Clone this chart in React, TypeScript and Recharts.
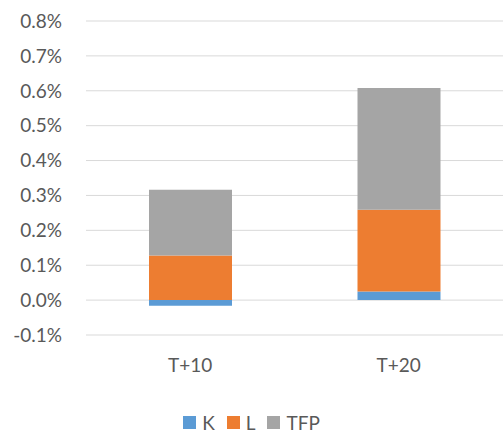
import React from 'react';
import { BarChart, Bar, XAxis, YAxis, CartesianGrid, Legend } from 'recharts';

// --- Data ---
const periods = ['T+10', 'T+20'];
const kValues = [-0.016, 0.025];
const lValues = [0.128, 0.234];
const tfpValues = [0.188, 0.349];
const yTicks = [-0.1, 0, 0.1, 0.2, 0.3, 0.4, 0.5, 0.6, 0.7, 0.8];

const seriesInfo = [
  { key: 'K', color: '#5B9BD5' },
  { key: 'L', color: '#ED7D31' },
  { key: 'TFP', color: '#A5A5A5' },
];

const data = periods.map((p, i) => ({
  period: p,
  K: kValues[i],
  L: lValues[i],
  TFP: tfpValues[i],
}));

const FONT = 'Lato, "Open Sans", sans-serif';
const TEXT = '#595959';

// --- Legend ---
const ChartLegend = () => (
  <div style={{ height: 30, boxSizing: 'border-box', display: 'flex', justifyContent: 'center', alignItems: 'center', gap: 12, fontFamily: FONT, fontSize: 19, color: TEXT, paddingTop: 10 }}>
    {seriesInfo.map((s) => (
      <div key={s.key} style={{ display: 'flex', alignItems: 'center', gap: 6 }}>
        <div style={{ width: 13, height: 13, background: s.color }} />
        <span>{s.key}</span>
      </div>
    ))}
  </div>
);

export default function App() {
  return (
    <div style={{ position: 'absolute', left: 0, top: 0, width: 503, height: 432, background: '#fff' }}>
      <BarChart
        width={503}
        height={432}
        data={data}
        stackOffset="sign"
        barSize={83}
        margin={{ top: 21, right: 0, left: 0, bottom: 0 }}
      >
        <CartesianGrid stroke="#D9D9D9" strokeWidth={1} vertical={false} />
        <XAxis
          dataKey="period"
          axisLine={false}
          tickLine={false}
          tickSize={0}
          tickMargin={24}
          height={67}
          tick={{ fill: TEXT, fontSize: 19, fontFamily: FONT }}
        />
        <YAxis
          domain={[-0.1, 0.8]}
          ticks={yTicks}
          interval={0}
          axisLine={false}
          tickLine={false}
          tickSize={0}
          tickMargin={24}
          width={86}
          tickFormatter={(v: number) => `${v.toFixed(1)}%`}
          tick={{ fill: TEXT, fontSize: 19, fontFamily: FONT }}
        />
        <Legend verticalAlign="bottom" content={<ChartLegend />} />
        {seriesInfo.map((s) => (
          <Bar key={s.key} dataKey={s.key} stackId="a" fill={s.color} isAnimationActive={false} />
        ))}
      </BarChart>
    </div>
  );
}
